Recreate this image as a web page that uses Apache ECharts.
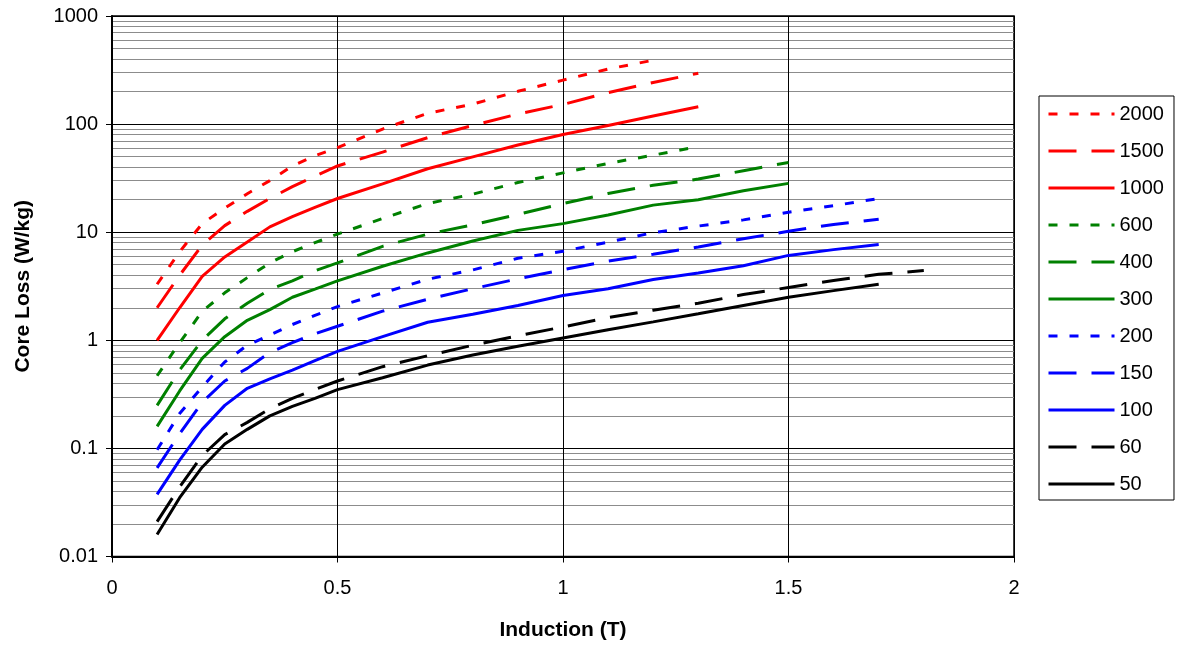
<!DOCTYPE html>
<html>
<head>
<meta charset="utf-8">
<script src="https://cdn.jsdelivr.net/npm/echarts@6/dist/echarts.min.js"></script>
<style>
html,body{margin:0;padding:0;background:#fff;}
#chart{width:1177px;height:647px;}
</style>
</head>
<body>
<div id="chart"></div>
<script>
// Induction values (T)
const inductionB = [0.1, 0.15, 0.2, 0.25, 0.3, 0.35, 0.4, 0.45, 0.5, 0.6, 0.7, 0.8, 0.9, 1.0, 1.1, 1.2, 1.3, 1.4, 1.5, 1.6, 1.7, 1.8];

// Core loss (W/kg) per frequency, aligned with inductionB
const loss2000 = [3.3, 6.6, 12, 16.7, 22.7, 30, 41, 51, 60.5, 90, 126, 153, 201, 255, 323, 390];
const loss1500 = [2.0, 4.0, 7.6, 11.5, 15.6, 20.5, 26.4, 33, 41, 55, 75, 97, 124, 152, 195, 243, 295];
const loss1000 = [1.0, 2.0, 3.9, 5.9, 8.1, 11.2, 13.9, 17, 20.5, 28, 38.6, 49.8, 64, 80, 97, 119, 145];
const loss600  = [0.47, 0.95, 1.85, 2.75, 3.8, 5.2, 6.6, 8.0, 9.6, 13.4, 18.4, 22.5, 28.8, 35.4, 43.3, 51.6, 62];
const loss400  = [0.25, 0.53, 1.0, 1.58, 2.2, 2.95, 3.55, 4.4, 5.2, 7.4, 9.6, 11.7, 14.6, 18.4, 22.8, 27.2, 31, 37, 44.2];
const loss300  = [0.16, 0.34, 0.68, 1.08, 1.53, 1.92, 2.5, 2.97, 3.55, 4.84, 6.43, 8.3, 10.4, 12.0, 14.4, 17.8, 20, 24.2, 28.3];
const loss200  = [0.097, 0.21, 0.37, 0.63, 0.9, 1.12, 1.4, 1.7, 2.05, 2.74, 3.67, 4.48, 5.74, 6.67, 8.1, 9.9, 11.4, 13.0, 15.3, 17.6, 20.5];
const loss150  = [0.066, 0.137, 0.267, 0.42, 0.55, 0.77, 0.95, 1.15, 1.35, 1.86, 2.4, 3.0, 3.7, 4.5, 5.4, 6.25, 7.3, 8.7, 10.2, 11.8, 13.2];
const loss100  = [0.0375, 0.078, 0.15, 0.25, 0.36, 0.44, 0.53, 0.65, 0.79, 1.08, 1.47, 1.74, 2.1, 2.6, 3.0, 3.65, 4.2, 4.9, 6.1, 6.9, 7.7];
const loss60   = [0.021, 0.044, 0.086, 0.134, 0.174, 0.233, 0.29, 0.35, 0.42, 0.57, 0.72, 0.9, 1.1, 1.33, 1.62, 1.9, 2.2, 2.65, 3.08, 3.57, 4.08, 4.42];
const loss50   = [0.016, 0.035, 0.067, 0.11, 0.15, 0.2, 0.245, 0.29, 0.35, 0.45, 0.59, 0.73, 0.88, 1.05, 1.25, 1.48, 1.76, 2.1, 2.5, 2.88, 3.3];

const seriesNames = ['2000', '1500', '1000', '600', '400', '300', '200', '150', '100', '60', '50'];
const seriesValues = [loss2000, loss1500, loss1000, loss600, loss400, loss300, loss200, loss150, loss100, loss60, loss50];
const seriesColors = ['#FF0000', '#FF0000', '#FF0000', '#008000', '#008000', '#008000', '#0000FF', '#0000FF', '#0000FF', '#000000', '#000000'];
const seriesDash = ['dot', 'dash', 'solid', 'dot', 'dash', 'solid', 'dot', 'dash', 'solid', 'dash', 'solid'];

const xTicks = [0, 0.5, 1, 1.5, 2];
const yTickLabels = ['0.01', '0.1', '1', '10', '100', '1000'];

const dashMap = { solid: 'solid', dash: [28, 15], dot: [9, 12] };
const FONT = '"Liberation Sans", Arial, sans-serif';

const series = seriesNames.map((name, i) => ({
  name: name,
  type: 'line',
  symbol: 'none',
  smooth: false,
  animation: false,
  data: seriesValues[i].map((v, k) => [inductionB[k], v]),
  lineStyle: { color: seriesColors[i], width: 3, type: dashMap[seriesDash[i]], cap: 'butt' },
  itemStyle: { color: seriesColors[i] }
}));

function fmtY(v) {
  const e = Math.round(Math.log10(v));
  const idx = e + 2;
  return yTickLabels[idx] !== undefined ? yTickLabels[idx] : String(v);
}

const chart = echarts.init(document.getElementById('chart'), null, { renderer: 'canvas' });
chart.setOption({
  backgroundColor: '#ffffff',
  animation: false,
  textStyle: { fontFamily: FONT },
  grid: { left: 112, right: 163, top: 16, bottom: 90.5, show: true, borderColor: '#000', borderWidth: 1.5, backgroundColor: 'transparent' },
  legend: {
    orient: 'vertical',
    left: 1039,
    top: 96,
    itemWidth: 66,
    itemHeight: 14,
    itemGap: 17,
    padding: [8, 10, 6, 8],
    borderColor: '#000',
    borderWidth: 1,
    backgroundColor: '#fff',
    selectedMode: false,
    itemStyle: { opacity: 0 },
    lineStyle: { width: 3, inactiveWidth: 3 },
    data: seriesNames,
    textStyle: { fontFamily: FONT, fontSize: 20, color: '#000', lineHeight: 20 }
  },
  xAxis: {
    type: 'value',
    min: xTicks[0],
    max: xTicks[xTicks.length - 1],
    interval: 0.5,
    name: 'Induction (T)',
    nameLocation: 'middle',
    nameGap: 63,
    nameTextStyle: { fontFamily: FONT, fontSize: 21, fontWeight: 'bold', color: '#000' },
    axisLine: { show: true, lineStyle: { color: '#000', width: 2 } },
    axisTick: { show: true, length: 6, lineStyle: { color: '#000', width: 1 } },
    axisLabel: { fontFamily: FONT, fontSize: 20, color: '#000', margin: 22 },
    splitLine: { show: true, lineStyle: { color: '#000', width: 1 } }
  },
  yAxis: {
    type: 'log',
    logBase: 10,
    min: 0.01,
    max: 1000,
    splitNumber: 5,
    name: 'Core Loss (W/kg)',
    nameLocation: 'middle',
    nameGap: 78,
    nameTextStyle: { fontFamily: FONT, fontSize: 21, fontWeight: 'bold', color: '#000' },
    axisLine: { show: true, lineStyle: { color: '#000', width: 2 } },
    axisTick: { show: true, length: 6, lineStyle: { color: '#000', width: 1 } },
    axisLabel: { fontFamily: FONT, fontSize: 20, color: '#000', margin: 14, formatter: fmtY },
    splitLine: { show: true, lineStyle: { color: '#000', width: 1 } },
    minorTick: { show: false, splitNumber: 9 },
    minorSplitLine: { show: true, lineStyle: { color: '#8c8c8c', width: 1 } }
  },
  series: series
});
</script>
</body>
</html>
